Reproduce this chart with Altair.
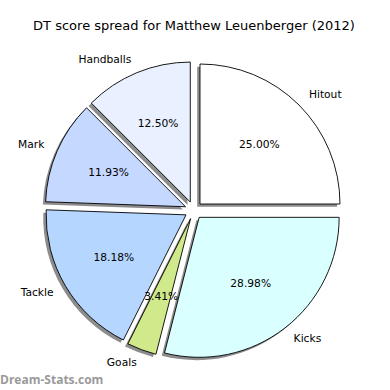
import altair as alt
import pandas as pd

labels = ["Hitout", "Kicks", "Goals", "Tackle", "Mark", "Handballs"]
values = [25.00, 28.98, 3.41, 18.18, 11.93, 12.50]
colors = ["#ffffff", "#d9ffff", "#d0e98a", "#b5d6ff", "#c5d8ff", "#e9f0ff"]
title_text = "DT score spread for Matthew Leuenberger (2012)"
watermark = "Dream-Stats.com"

df = pd.DataFrame({"label": labels, "value": values, "order": list(range(len(labels)))})

CX, CY = 193.7, 210.3
R = 140
EXPLODE = 8.9
LABEL_D = 1.1 * R
PCT_D = 0.6 * R
SH = 2.8
FONT = "DejaVu Sans"

base = (
    alt.Chart(df)
    .transform_window(cum="sum(value)", sort=[alt.SortField("order")], frame=[None, 0])
    .transform_joinaggregate(total="sum(value)")
    .transform_calculate(
        t1="datum.cum / datum.total * 2 * PI",
        t0="(datum.cum - datum.value) / datum.total * 2 * PI",
    )
    .transform_calculate(mid="(datum.t0 + datum.t1) / 2")
    .transform_calculate(
        cx=f"{CX} + {EXPLODE} * sin(datum.mid)",
        cy=f"{CY} - {EXPLODE} * cos(datum.mid)",
    )
    .transform_calculate(
        sx=f"datum.cx - {SH}",
        sy=f"datum.cy + {SH}",
        lx=f"datum.cx + {LABEL_D} * sin(datum.mid)",
        ly=f"datum.cy - {LABEL_D} * cos(datum.mid)",
        px=f"datum.cx + {PCT_D} * sin(datum.mid)",
        py=f"datum.cy - {PCT_D} * cos(datum.mid)",
        pct="format(datum.value / datum.total * 100, '.2f') + '%'",
        side="sin(datum.mid) > 0 ? 'L' : 'R'",
    )
)

shadow = base.mark_arc(radius=R, fill="#8c8c8c", stroke=None).encode(
    theta=alt.Theta("t0:Q", scale=None),
    theta2="t1:Q",
    x=alt.X("sx:Q", scale=None, axis=None),
    y=alt.Y("sy:Q", scale=None, axis=None),
)

wedges = base.mark_arc(radius=R, stroke="black", strokeWidth=0.9).encode(
    theta=alt.Theta("t0:Q", scale=None),
    theta2="t1:Q",
    x=alt.X("cx:Q", scale=None, axis=None),
    y=alt.Y("cy:Q", scale=None, axis=None),
    color=alt.Color("label:N", scale=alt.Scale(domain=labels, range=colors), legend=None),
)

lab_left = base.transform_filter("datum.side == 'L'").mark_text(
    align="left", baseline="middle", font=FONT, fontSize=10.7, color="black"
).encode(
    x=alt.X("lx:Q", scale=None, axis=None),
    y=alt.Y("ly:Q", scale=None, axis=None),
    text="label:N",
)

lab_right = base.transform_filter("datum.side == 'R'").mark_text(
    align="right", baseline="middle", font=FONT, fontSize=10.7, color="black"
).encode(
    x=alt.X("lx:Q", scale=None, axis=None),
    y=alt.Y("ly:Q", scale=None, axis=None),
    text="label:N",
)

pcts = base.mark_text(
    align="center", baseline="middle", font=FONT, fontSize=10.7, color="black"
).encode(
    x=alt.X("px:Q", scale=None, axis=None),
    y=alt.Y("py:Q", scale=None, axis=None),
    text="pct:N",
)

title = alt.Chart(pd.DataFrame({"t": [title_text]})).mark_text(
    align="center", baseline="middle", font=FONT, fontSize=13, color="black"
).encode(x=alt.value(194), y=alt.value(26), text="t:N")

wm = alt.Chart(pd.DataFrame({"t": [watermark]})).mark_text(
    align="left", baseline="middle", font="Open Sans", fontSize=12, fontWeight="bold", color="#9a9a9a"
).encode(x=alt.value(0), y=alt.value(380), text="t:N")

chart = (
    alt.layer(shadow, wedges, pcts, lab_left, lab_right, title, wm)
    .properties(width=390, height=390, autosize=alt.AutoSizeParams(type="none"), padding=0, background="white")
    .configure_view(stroke=None)
)

chart.save("out.html", embed_options={"renderer": "svg", "actions": False})
